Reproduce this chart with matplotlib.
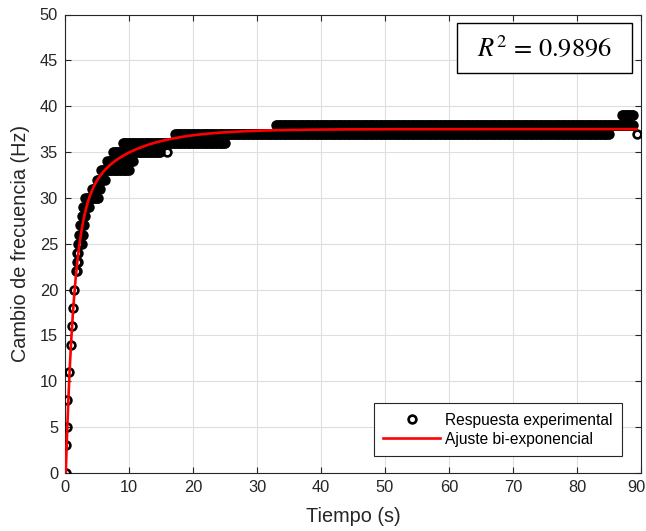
import numpy as np
import matplotlib
matplotlib.use("Agg")
import matplotlib.pyplot as plt
import matplotlib.transforms as mtransforms
from matplotlib.patches import Rectangle

# ---------------- data ----------------
# measured frequency levels (Hz) and the time span (s) in which each level was recorded
levels     = [0,    3,    5,    8,    11,   14,   16,   18,   20,   22,   23,   24,   25,   26,   27,
              28,   29,   30,   31,   32,   33,   34,   35,   35,   36,   37,   38,   39,   37]
seg_start  = [0.10, 0.15, 0.25, 0.35, 0.70, 0.95, 1.15, 1.30, 1.45, 1.70, 1.80, 1.90, 2.00, 2.20, 2.40,
              2.60, 2.80, 3.20, 4.20, 5.00, 5.60, 6.60, 7.50, 16.0, 9.00, 17.2, 33.0, 87.0, 89.3]
seg_end    = [0.10, 0.15, 0.35, 0.40, 0.75, 1.05, 1.20, 1.35, 1.60, 1.90, 2.00, 2.20, 2.60, 2.80, 3.00,
              3.30, 3.80, 5.20, 5.40, 6.20, 10.0, 10.6, 15.0, 16.0, 25.0, 85.0, 88.8, 88.8, 89.3]
sample_dt = 0.2

# bi-exponential fit parameters
fit_A1, fit_tau1 = 28.0, 1.3
fit_A2, fit_tau2 = 9.5, 7.5
fit_t0, fit_tend = 0.12, 89.3

r2_text = r"$R^2$ = 0.9896"
x_ticks = [0, 10, 20, 30, 40, 50, 60, 70, 80, 90]
y_ticks = [0, 5, 10, 15, 20, 25, 30, 35, 40, 45, 50]
xlabel = "Tiempo (s)"
ylabel = "Cambio de frecuencia (Hz)"
legend_labels = ["Respuesta experimental", "Ajuste bi-exponencial"]

# ---------------- build series ----------------
t_data, f_data = [], []
for lv, a, b in zip(levels, seg_start, seg_end):
    ts = np.arange(a, b + 1e-9, sample_dt)
    t_data.extend(ts)
    f_data.extend([lv] * len(ts))
t_data = np.array(t_data)
f_data = np.array(f_data)

t_fit = np.linspace(fit_t0, fit_tend, 2000)
tt = t_fit - fit_t0
f_fit = fit_A1 * (1 - np.exp(-tt / fit_tau1)) + fit_A2 * (1 - np.exp(-tt / fit_tau2))

# ---------------- plot ----------------
plt.rcParams['font.family'] = ['Liberation Sans', 'DejaVu Sans']
plt.rcParams['mathtext.fontset'] = 'stix'
dark = '#262626'

W, H = 646, 531
fig = plt.figure(figsize=(W / 100, H / 100), dpi=100)
ax = fig.add_axes([65 / W, 1 - 473 / H, (641 - 65) / W, (473 - 14.5) / H])

ax.plot(t_data, f_data, linestyle='none', marker='o', markersize=5.6,
        markerfacecolor='none', markeredgecolor='black', markeredgewidth=1.9,
        label=legend_labels[0], zorder=3)
ax.plot(t_fit, f_fit, color='#ff0000', linewidth=1.9, label=legend_labels[1], zorder=4)

ax.set_xlim(0, 90)
ax.set_ylim(0, 50)
ax.set_xticks(x_ticks)
ax.set_yticks(y_ticks)
ax.grid(True, color='#dedede', linewidth=0.8)
ax.set_axisbelow(True)
ax.tick_params(direction='in', length=4.5, width=0.8, colors=dark, labelsize=11.8,
               top=True, right=True, pad=5)
for s in ax.spines.values():
    s.set_color(dark)
    s.set_linewidth(0.8)

# keep the last x tick label ("90") inside the picture
last_lbl = ax.get_xticklabels()[-1]
last_lbl.set_transform(last_lbl.get_transform() +
                       mtransforms.ScaledTranslation(-5 / 100, 0, fig.dpi_scale_trans))

ax.set_xlabel(xlabel, fontsize=14.3, color=dark, labelpad=9)
ax.set_ylabel(ylabel, fontsize=14.3, color=dark, labelpad=7)

leg = ax.legend(loc='lower right', bbox_to_anchor=((622 - 65) / 576, (473 - 456) / 458.5),
                borderaxespad=0, fancybox=False, framealpha=1, edgecolor=dark,
                fontsize=11.2, handlelength=3.7, handletextpad=0.3, labelspacing=0.25,
                borderpad=0.6, numpoints=1)
leg.get_frame().set_linewidth(0.8)

# R^2 box
bx0, bx1, by0, by1 = 457, 632, 23, 73
fig.patches.append(Rectangle((bx0 / W, 1 - by1 / H), (bx1 - bx0) / W, (by1 - by0) / H,
                             transform=fig.transFigure, facecolor='white', edgecolor='black',
                             linewidth=1.0, zorder=10))
fig.text((bx0 + bx1) / 2 / W, 1 - 49 / H, r2_text, ha='center', va='center',
         fontsize=19, family=['STIXGeneral', 'DejaVu Serif'], zorder=11)

fig.savefig('out.png', dpi=100)
